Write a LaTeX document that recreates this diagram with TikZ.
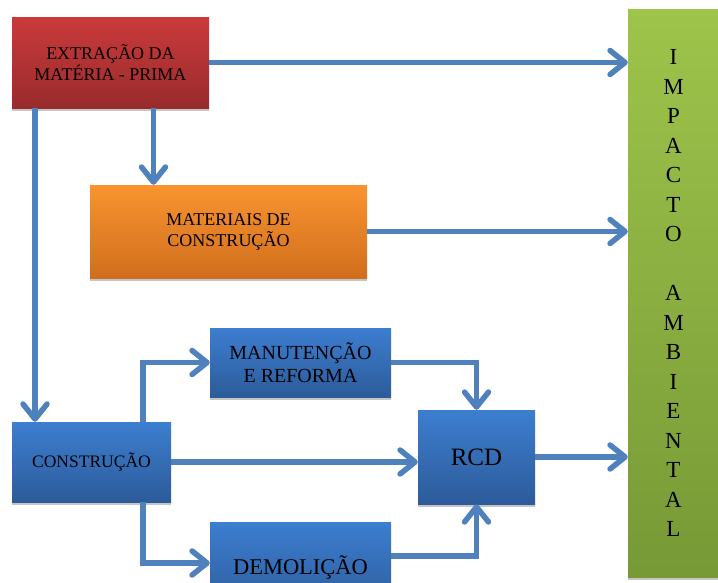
\documentclass[tikz,border=0pt]{standalone}
\usepackage{fontspec}
\setmainfont{Liberation Serif}
\usetikzlibrary{arrows.meta,shadows}

\definecolor{vermelhoA}{HTML}{CA3A3B}
\definecolor{vermelhoB}{HTML}{992B2C}
\definecolor{laranjaA}{HTML}{F9942F}
\definecolor{laranjaB}{HTML}{D06E1D}
\definecolor{azulA}{HTML}{3D7ED0}
\definecolor{azulB}{HTML}{2C5B9A}
\definecolor{verdeA}{HTML}{9EC44B}
\definecolor{verdeB}{HTML}{779936}
\definecolor{seta}{HTML}{4F81BD}

\begin{document}
\begin{tikzpicture}[x=1pt, y=-1pt,
    caixa/.style={inner sep=0pt, align=center,
        drop shadow={shadow xshift=0pt, shadow yshift=-3pt, fill=black!45, opacity=.5}},
    vermelha/.style={caixa, top color=vermelhoA, bottom color=vermelhoB},
    laranja/.style={caixa, top color=laranjaA, bottom color=laranjaB},
    azul/.style={caixa, top color=azulA, bottom color=azulB},
    verde/.style={caixa, top color=verdeA, bottom color=verdeB},
    fluxo/.style={draw=seta, line width=5.5pt,
        -{Straight Barb[length=15pt, width=24pt, round]}}]

    \useasboundingbox (0,0) rectangle (718,582);

    % caixas
    \node[vermelha, minimum width=197pt, minimum height=91pt,
        font=\fontsize{18}{21}\selectfont] (extracao) at (110.5,62.5)
        {EXTRAÇÃO DA\\MATÉRIA - PRIMA};
    \node[laranja, minimum width=277pt, minimum height=93pt,
        font=\fontsize{18}{21}\selectfont] (materiais) at (228.5,231.5)
        {MATERIAIS DE\\CONSTRUÇÃO};
    \node[verde, minimum width=91pt, minimum height=568pt,
        font=\fontsize{23}{29.5}\selectfont] (impacto) at (673.5,293)
        {I\\M\\P\\A\\C\\T\\O\\[29.5pt]A\\M\\B\\I\\E\\N\\T\\A\\L};
    \node[azul, minimum width=181pt, minimum height=69pt,
        font=\fontsize{20}{23}\selectfont] (manutencao) at (300.5,362.5)
        {MANUTENÇÃO\\E REFORMA};
    \node[azul, minimum width=159pt, minimum height=80pt,
        font=\fontsize{17.5}{21}\selectfont] (construcao) at (91.5,462)
        {CONSTRUÇÃO};
    \node[azul, minimum width=117pt, minimum height=94pt,
        font=\fontsize{25}{30}\selectfont] (rcd) at (476.5,457)
        {RCD};
    \node[azul, minimum width=181pt, minimum height=90pt,
        font=\fontsize{22.5}{27}\selectfont] (demolicao) at (300.5,567)
        {DEMOLIÇÃO};

    % setas
    \draw[fluxo] (extracao.east) -- (extracao.east -| impacto.west);
    \draw[fluxo] ([xshift=43pt]extracao.south) -- ([xshift=43pt]extracao.south |- materiais.north);
    \draw[fluxo] ([xshift=-75.5pt]extracao.south) -- ([xshift=-75.5pt]extracao.south |- construcao.north);
    \draw[fluxo] (materiais.east) -- (materiais.east -| impacto.west);
    \draw[fluxo] ([xshift=51.5pt]construcao.north) |- (manutencao.west);
    \draw[fluxo] ([xshift=51.5pt]construcao.south) |- ([yshift=4pt]demolicao.west);
    \draw[fluxo] (construcao.east) -- (construcao.east -| rcd.west);
    \draw[fluxo] (manutencao.east) -| (rcd.north);
    \draw[fluxo] ([yshift=11pt]demolicao.east) -| (rcd.south);
    \draw[fluxo] (rcd.east) -- (rcd.east -| impacto.west);
\end{tikzpicture}
\end{document}
